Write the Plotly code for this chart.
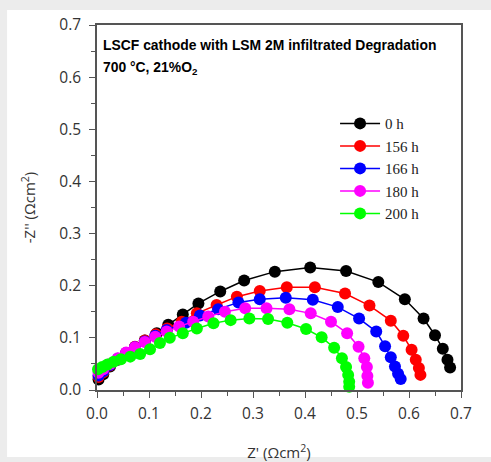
import plotly.graph_objects as go

labels = ["0 h", "156 h", "166 h", "180 h", "200 h"]
colors = ["#000000", "#ff0000", "#0000ff", "#ff00ff", "#00ff00"]

zre_0 = [0.003, 0.012, 0.025, 0.040, 0.056, 0.073, 0.092, 0.115, 0.137, 0.165, 0.195, 0.237, 0.283, 0.342, 0.410, 0.479, 0.541, 0.592, 0.628, 0.650, 0.665, 0.674, 0.679]
zim_0 = [0.020, 0.030, 0.045, 0.058, 0.070, 0.082, 0.095, 0.109, 0.125, 0.145, 0.166, 0.189, 0.210, 0.227, 0.235, 0.228, 0.207, 0.174, 0.137, 0.105, 0.079, 0.058, 0.043]

zre_156 = [0.003, 0.012, 0.025, 0.040, 0.056, 0.073, 0.092, 0.113, 0.135, 0.163, 0.192, 0.230, 0.269, 0.313, 0.365, 0.419, 0.477, 0.524, 0.565, 0.589, 0.605, 0.613, 0.619, 0.622]
zim_156 = [0.025, 0.034, 0.047, 0.059, 0.071, 0.083, 0.095, 0.107, 0.118, 0.131, 0.147, 0.163, 0.179, 0.190, 0.197, 0.197, 0.185, 0.162, 0.133, 0.104, 0.077, 0.058, 0.042, 0.029]

zre_166 = [0.003, 0.012, 0.025, 0.040, 0.056, 0.073, 0.092, 0.112, 0.134, 0.171, 0.198, 0.233, 0.272, 0.313, 0.363, 0.415, 0.463, 0.504, 0.537, 0.554, 0.565, 0.573, 0.579, 0.584]
zim_166 = [0.028, 0.036, 0.048, 0.060, 0.071, 0.082, 0.093, 0.104, 0.115, 0.129, 0.143, 0.155, 0.168, 0.174, 0.177, 0.173, 0.159, 0.137, 0.112, 0.084, 0.063, 0.045, 0.031, 0.021]

zre_180 = [0.003, 0.012, 0.025, 0.040, 0.056, 0.073, 0.092, 0.112, 0.134, 0.158, 0.185, 0.214, 0.246, 0.285, 0.326, 0.370, 0.411, 0.450, 0.481, 0.503, 0.514, 0.519, 0.520, 0.521]
zim_180 = [0.033, 0.040, 0.050, 0.061, 0.072, 0.082, 0.092, 0.102, 0.112, 0.122, 0.131, 0.141, 0.150, 0.157, 0.157, 0.155, 0.147, 0.131, 0.109, 0.083, 0.061, 0.044, 0.027, 0.014]

zre_200 = [0.002, 0.010, 0.020, 0.032, 0.046, 0.064, 0.083, 0.102, 0.121, 0.140, 0.165, 0.192, 0.224, 0.257, 0.293, 0.329, 0.366, 0.402, 0.432, 0.456, 0.471, 0.479, 0.483, 0.485, 0.485]
zim_200 = [0.040, 0.044, 0.049, 0.054, 0.059, 0.064, 0.069, 0.078, 0.090, 0.100, 0.109, 0.118, 0.128, 0.134, 0.137, 0.136, 0.129, 0.117, 0.101, 0.081, 0.061, 0.044, 0.029, 0.016, 0.006]

series = [(zre_0, zim_0), (zre_156, zim_156), (zre_166, zim_166), (zre_180, zim_180), (zre_200, zim_200)]

fig = go.Figure()
for (xr, yi), name, c in zip(series, labels, colors):
    fig.add_trace(go.Scatter(
        x=xr, y=yi, name=name, mode="lines+markers",
        line=dict(color=c, width=1.5),
        marker=dict(color=c, size=12, symbol="circle"),
        cliponaxis=False,
    ))

tick_font = dict(family="Open Sans, Liberation Sans, sans-serif", size=15.5, color="#333333")
axis_common = dict(
    showline=True, linecolor="#555555", linewidth=1.5, mirror=True,
    ticks="outside", ticklen=6, tickwidth=1.2, tickcolor="#555555",
    showgrid=False, zeroline=False, automargin=False,
    tickfont=tick_font,
    minor=dict(ticks="outside", ticklen=4, tickwidth=1.2, tickcolor="#555555", dtick=0.05),
)

fig.update_xaxes(range=[0, 0.7], dtick=0.1, tickformat=".1f", ticklabelstandoff=3,
                 title=dict(text="Z' (Ωcm<sup>2</sup>)", standoff=30,
                            font=dict(family="Open Sans, Liberation Sans, sans-serif", size=15, color="#333333")),
                 **axis_common)
fig.update_yaxes(range=[0, 0.7], dtick=0.1, tickformat=".1f", ticklabelstandoff=5,
                 title=dict(text="-Z'' (Ωcm<sup>2</sup>)", standoff=20,
                            font=dict(family="Open Sans, Liberation Sans, sans-serif", size=15, color="#333333")),
                 **axis_common)

fig.add_annotation(xref="paper", yref="paper", x=0.012, y=0.945, xanchor="left", yanchor="middle",
                   text="<b>LSCF cathode with LSM 2M infiltrated Degradation</b>", showarrow=False,
                   font=dict(family="Liberation Sans, Arial, sans-serif", size=13.9, color="#000000"))
fig.add_annotation(xref="paper", yref="paper", x=0.012, y=0.882, xanchor="left", yanchor="middle",
                   text="<b>700 °C, 21%O<sub>2</sub></b>", showarrow=False,
                   font=dict(family="Liberation Sans, Arial, sans-serif", size=13.9, color="#000000"))

fig.add_shape(type="rect", xref="paper", yref="paper", x0=-0.247, x1=1.1, y0=-0.1836, y1=1.041,
              fillcolor="white", line=dict(width=0), layer="below")

fig.update_layout(
    width=491, height=462,
    margin=dict(l=97, r=30, t=25, b=72),
    paper_bgcolor="#ececec", plot_bgcolor="white",
    showlegend=True,
    legend=dict(x=0.654, y=0.775, xanchor="left", yanchor="top",
                bgcolor="rgba(0,0,0,0)", tracegroupgap=0,
                font=dict(family="Liberation Serif, DejaVu Serif, serif", size=15, color="#222222"),
                itemwidth=40),
)

fig.write_html("out.html")
